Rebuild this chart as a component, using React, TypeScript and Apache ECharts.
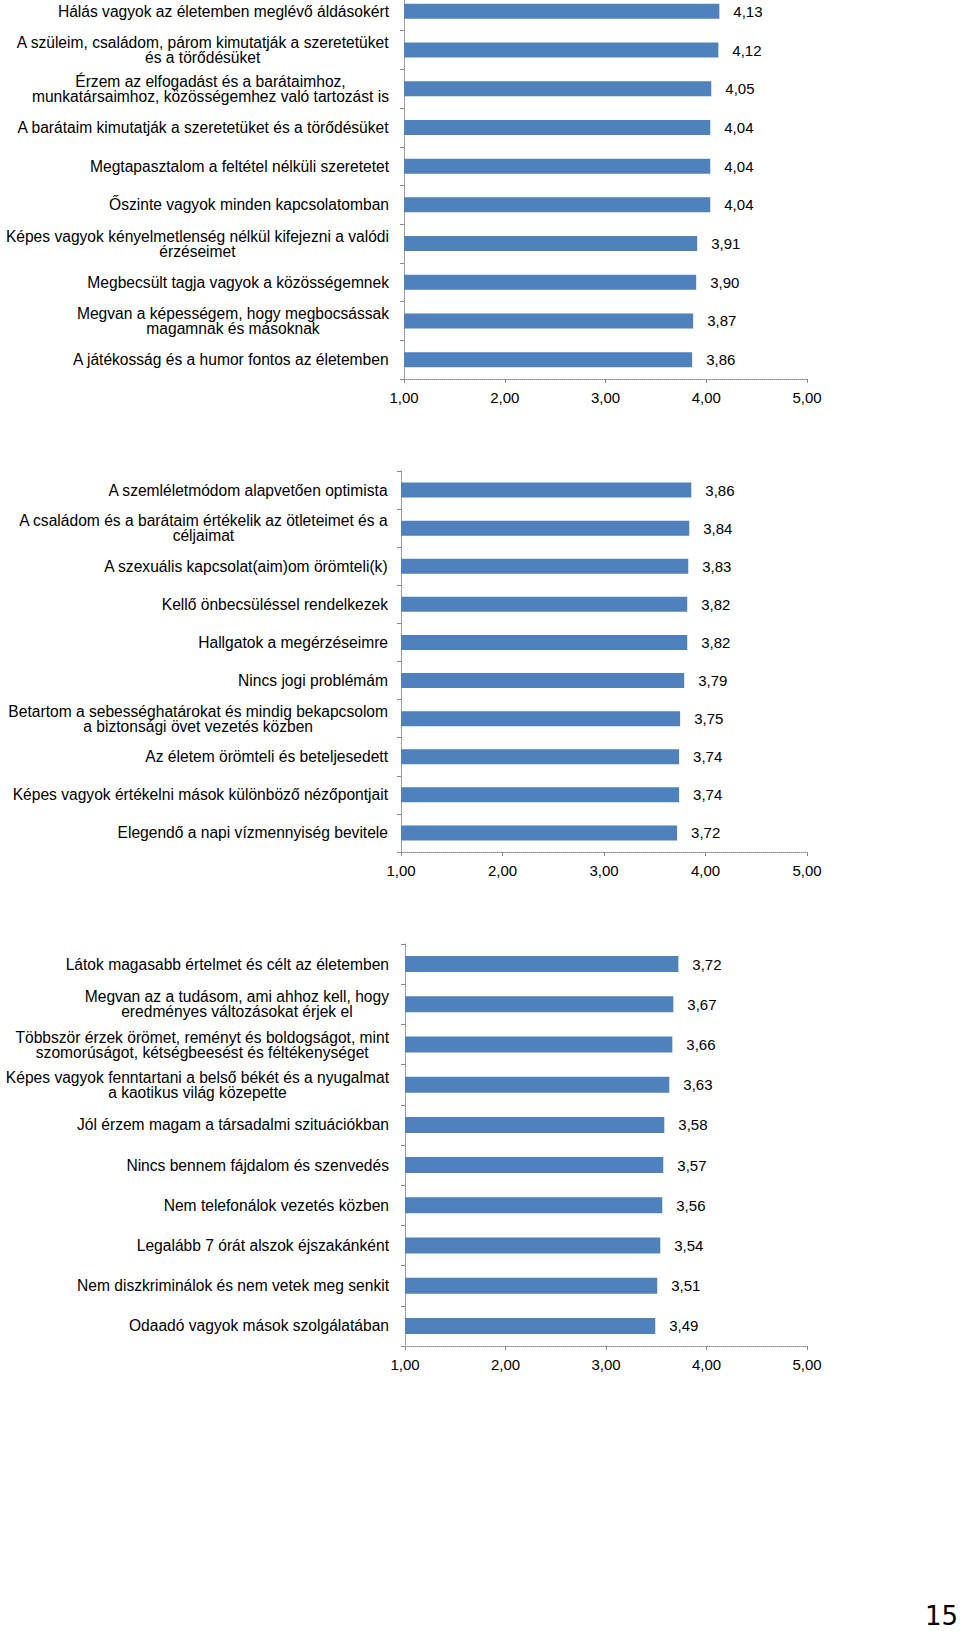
import React, { useEffect, useRef } from 'react';
import * as echarts from 'echarts';

const cats1 = [
  'Hálás vagyok az életemben meglévő áldásokért',
  'A szüleim, családom, párom kimutatják a szeretetüket\nés a törődésüket',
  'Érzem az elfogadást és a barátaimhoz,\nmunkatársaimhoz, közösségemhez való tartozást is',
  'A barátaim kimutatják a szeretetüket és a törődésüket',
  'Megtapasztalom a feltétel nélküli szeretetet',
  'Őszinte vagyok minden kapcsolatomban',
  'Képes vagyok kényelmetlenség nélkül kifejezni a valódi\nérzéseimet',
  'Megbecsült tagja vagyok a közösségemnek',
  'Megvan a képességem, hogy megbocsássak\nmagamnak és másoknak',
  'A játékosság és a humor fontos az életemben',
];
const vals1 = [4.13, 4.12, 4.05, 4.04, 4.04, 4.04, 3.91, 3.9, 3.87, 3.86];

const cats2 = [
  'A szemléletmódom alapvetően optimista',
  'A családom és a barátaim értékelik az ötleteimet és a\ncéljaimat',
  'A szexuális kapcsolat(aim)om örömteli(k)',
  'Kellő önbecsüléssel rendelkezek',
  'Hallgatok a megérzéseimre',
  'Nincs jogi problémám',
  'Betartom a sebességhatárokat és mindig bekapcsolom\na biztonsági övet vezetés közben',
  'Az életem örömteli és beteljesedett',
  'Képes vagyok értékelni mások különböző nézőpontjait',
  'Elegendő a napi vízmennyiség bevitele',
];
const vals2 = [3.86, 3.84, 3.83, 3.82, 3.82, 3.79, 3.75, 3.74, 3.74, 3.72];

const cats3 = [
  'Látok magasabb értelmet és célt az életemben',
  'Megvan az a tudásom, ami ahhoz kell, hogy\neredményes változásokat érjek el',
  'Többször érzek örömet, reményt és boldogságot, mint\nszomorúságot, kétségbeesést és féltékenységet',
  'Képes vagyok fenntartani a belső békét és a nyugalmat\na kaotikus világ közepette',
  'Jól érzem magam a társadalmi szituációkban',
  'Nincs bennem fájdalom és szenvedés',
  'Nem telefonálok vezetés közben',
  'Legalább 7 órát alszok éjszakánként',
  'Nem diszkriminálok és nem vetek meg senkit',
  'Odaadó vagyok mások szolgálatában',
];
const vals3 = [3.72, 3.67, 3.66, 3.63, 3.58, 3.57, 3.56, 3.54, 3.51, 3.49];

const xMin = 1;
const xMax = 5;
const xStep = 1;
const pageNumber = '15';

const FONT = '"Liberation Sans", Arial, sans-serif';
const BAR = '#4F81BD';
const AXIS = '#8a8a8a';

const fmt = (v: number) => v.toFixed(2).replace('.', ',');

export default function App() {
  const ref = useRef<HTMLDivElement>(null);
  useEffect(() => {
    document.body.style.margin = '0';
    const chart = echarts.init(ref.current!, null, { renderer: 'svg' });
    const panels = [
      { cats: cats1, vals: vals1, grid: { left: 404, right: 153, top: -8, height: 387 }, bw: 15, margin: 15 },
      { cats: cats2, vals: vals2, grid: { left: 401, right: 153, top: 471, height: 381 }, bw: 15, margin: 13 },
      { cats: cats3, vals: vals3, grid: { left: 405, right: 153, top: 944, height: 402 }, bw: 16, margin: 16 },
    ];
    const option: any = {
      animation: false,
      backgroundColor: '#ffffff',
      grid: panels.map((p) => ({ ...p.grid, containLabel: false, outerBoundsMode: 'none' })),
      xAxis: panels.map((_, i) => ({
        type: 'value',
        gridIndex: i,
        min: xMin,
        max: xMax,
        interval: xStep,
        axisLine: { show: true, lineStyle: { color: AXIS, type: 'dotted', width: 1 } },
        axisTick: { show: true, length: 4, lineStyle: { color: AXIS } },
        splitLine: { show: false },
        axisLabel: {
          formatter: (v: number) => fmt(v),
          fontFamily: FONT,
          fontSize: 15,
          color: '#000',
          margin: 11,
        },
      })),
      yAxis: panels.map((p, i) => ({
        type: 'category',
        gridIndex: i,
        inverse: true,
        data: p.cats,
        axisLine: { show: true, lineStyle: { color: AXIS, type: 'dotted', width: 1 } },
        axisTick: { show: true, length: 4, lineStyle: { color: AXIS } },
        axisLabel: {
          margin: p.margin,
          interval: 0,
          formatter: (v: string) => v.split('\n').map((l) => `{c|${l}}`).join('\n'),
          rich: {
            c: {
              align: 'center',
              fontFamily: FONT,
              fontSize: 15.6,
              lineHeight: 15,
              color: '#000',
            },
          },
        },
      })),
      series: panels.map((p, i) => ({
        type: 'bar',
        xAxisIndex: i,
        yAxisIndex: i,
        data: p.vals,
        barWidth: p.bw,
        itemStyle: { color: BAR },
        label: {
          show: true,
          position: 'right',
          distance: 14,
          formatter: (d: any) => fmt(d.value),
          fontFamily: FONT,
          fontSize: 15,
          color: '#000',
        },
      })),
      graphic: [
        {
          type: 'text',
          right: 2,
          bottom: 2,
          style: {
            text: pageNumber,
            fontFamily: '"Liberation Sans Narrow", "DejaVu Sans", sans-serif',
            fontSize: 26,
            fill: '#000',
          },
        },
      ],
    };
    chart.setOption(option);
    return () => chart.dispose();
  }, []);
  return <div ref={ref} style={{ width: 960, height: 1631 }} />;
}
